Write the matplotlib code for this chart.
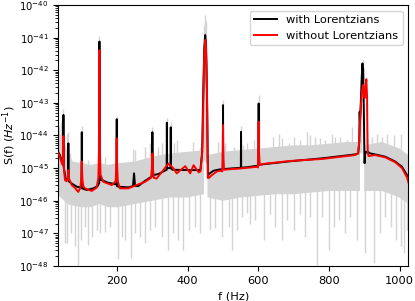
import numpy as np
import matplotlib
matplotlib.use("Agg")
import matplotlib.pyplot as plt
from matplotlib.ticker import LogLocator, NullFormatter

plt.rcParams["axes.unicode_minus"] = False
nan = float("nan")

# ---- grey periodogram (read as envelopes + individual spikes), log10 S ----
gray_f = [30, 40, 50, 60, 75, 100, 125, 150, 175, 200, 250, 300, 350, 400, 446,
          447, 455,
          456, 500, 550, 600, 650, 700, 750, 800, 850, 888,
          889, 899,
          900, 950, 1000, 1025]
gray_hi = [-44.0, -44.0, -44.2, -44.5, -44.8, -44.85, -44.9, -44.85, -44.9, -44.85, -44.8, -44.65, -44.55, -44.5, -44.45,
           nan, nan,
           -44.6, -44.5, -44.45, -44.4, -44.35, -44.3, -44.3, -44.25, -44.2, -44.2,
           nan, nan,
           -44.3, -44.2, -44.4, -44.6]
gray_lo = [-45.8, -45.9, -46.0, -46.1, -46.15, -46.2, -46.2, -46.1, -46.2, -46.2, -46.1, -46.0, -45.9, -45.9, -45.8,
           nan, nan,
           -45.9, -46.0, -45.9, -45.85, -45.8, -45.8, -45.75, -45.7, -45.7, -45.7,
           nan, nan,
           -45.7, -45.7, -45.9, -46.1]

# downward grey spikes: frequency, bottom (log10)
down_f = [52.5, 57, 69.5, 81, 88.5, 97.9, 109.2, 118.6, 128, 142.4, 151.8, 166, 180, 203.8, 213, 222.7,
          239.7, 251, 265, 279, 293.6, 307.8, 326.8, 345.6, 359.7, 373.9, 388, 402.3, 421.3, 435.5,
          463.8, 478, 497, 515.7, 525.4, 539.5, 553.7, 568, 577.3, 591.5, 615, 634, 648, 667, 681.4,
          700, 719, 733, 747.5, 766.5, 780.7, 799.5, 813.6, 828, 846.8, 861, 880, 903.5, 927, 946,
          960, 974.5, 988.7, 1003, 1012, 1020]
down_v = [-47.31, -47.3, -47.0, -47.4, -47.98, -47.2, -46.8, -47.35, -47.1, -46.9, -47.0, -46.95, -46.8, -47.8, -47.1, -47.2,
          -47.77, -47.0, -47.1, -47.3, -46.9, -46.8, -47.1, -47.5, -47.0, -47.2, -47.5, -46.9, -46.8, -47.0,
          -46.9, -46.85, -47.1, -46.8, -47.5, -46.9, -46.49, -46.39, -46.7, -46.6, -47.2, -46.4, -46.8, -47.2, -46.6,
          -46.9, -46.4, -47.1, -46.5, -47.98, -46.5, -47.5, -46.8, -46.6, -47.0, -46.5, -47.2, -47.6, -47.9, -47.0,
          -46.5, -46.8, -47.2, -47.4, -47.6, -46.9]

# upward grey spikes: frequency, top (log10)
up_f = [35, 38, 42, 48, 57, 62, 66, 100, 118.6, 150, 166, 199, 246, 251, 279, 294, 300, 317, 327,
        341, 352, 360, 369, 416, 435.5,
        447, 449, 451, 453, 487, 500, 506, 530, 551, 558, 568, 587, 601, 643, 657.6, 667, 686, 700,
        719, 738, 747.5, 761.7, 776, 790, 809, 818.4, 832.6, 851.6, 866,
        887, 892, 896, 905, 922.6, 936.7, 951, 965, 984, 1003]
up_v = [-43.7, -43.94, -43.6, -43.2, -43.94, -43.9, -44.55, -43.7, -44.75, -40.95, -44.65, -43.4, -44.4, -44.45, -44.35, -44.24, -43.75, -44.35, -44.24,
        -43.45, -43.6, -44.24, -44.14, -44.19, -44.35,
        -40.6, -40.3, -40.5, -41.2, -44.19, -42.9, -44.24, -44.35, -43.7, -44.29, -44.24, -44.14, -42.75, -44.04, -43.94, -44.09, -44.24, -44.04,
        -44.14, -43.89, -43.99, -44.04, -44.09, -44.14, -43.94, -44.04, -44.04, -44.14, -43.73,
        -43.0, -42.3, -41.7, -42.2, -44.04, -43.94, -44.04, -43.94, -43.99, -43.94]

# ---- model with Lorentzians (black), log10 S ----
black_f = [30, 38, 44, 47.5, 48, 48.5, 54.5, 61.5, 62, 62.5, 71.5, 85.7, 99.5, 100, 100.5,
           114, 133, 145, 149.5, 150, 150.5, 156.6, 175, 198.5, 199, 199.5, 204, 232,
           245, 248, 251, 260, 279, 299.5, 300, 300.5, 317, 340.5, 341, 341.5,
           351.5, 352, 352.5, 357, 400, 436, 441, 443, 445, 447, 449.5, 451, 453, 455,
           456.5, 457.5, 460, 473, 491, 499.5, 500, 500.5, 523, 550.5, 551, 551.5,
           577, 600.5, 601, 601.5, 615, 691, 780, 874, 883, 886, 887, 888, 891, 893,
           895, 896, 897, 898, 899, 900, 901, 902, 905, 910, 917, 931, 959.5, 988,
           1007, 1021, 1027]
black_v = [-44.45, -44.6, -44.8, -44.9, -43.37, -44.95, -45.32, -45.35, -44.24, -45.4, -45.47, -45.57, -45.6, -43.9, -45.62,
           -45.67, -45.62, -45.55, -45.45, -41.12, -45.35, -45.37, -45.45, -45.5, -43.5, -45.55, -45.57, -45.59,
           -45.55, -45.16, -45.55, -45.55, -45.39, -45.25, -43.9, -45.22, -45.18, -45.05, -43.61, -45.0,
           -45.0, -43.75, -45.0, -45.05, -45.06, -45.06, -44.5, -43.2, -42.2, -41.3, -40.92, -41.1, -41.8, -43.0,
           -44.5, -45.25, -45.18, -45.08, -45.04, -45.03, -43.07, -45.03, -45.01, -44.99, -43.89, -44.99,
           -44.96, -44.92, -43.02, -44.9, -44.88, -44.79, -44.7, -44.58, -44.55, -44.2, -43.27, -43.6, -42.8, -42.2,
           -41.79, -42.0, -41.95, -42.6, -43.3, -44.2, -44.85, -44.6, -44.5, -44.5, -44.55, -44.58, -44.65, -44.8,
           -44.96, -45.21, -45.42]

# ---- model without Lorentzians (red), log10 S ----
red_f = [30, 36, 42, 46, 47.5, 48, 48.5, 50, 52.5, 57, 61, 62, 63, 71.5, 80, 90, 96, 98.5, 100, 101.5,
         104, 109, 128, 142, 147, 148.5, 149.5, 150, 150.5, 151.5, 153, 161, 185, 196, 198, 199, 200,
         202, 208, 232, 255, 279, 296, 298.5, 300, 301.5, 304, 312, 331, 345.5, 359, 369, 393, 407,
         416.6, 431, 436, 440, 442, 445, 447, 449.6, 452, 454.4, 456, 457, 460, 469, 483, 495, 498,
         499, 500, 501, 503, 523, 540, 597, 599, 600, 601, 602, 604, 615, 691, 780, 874, 882, 885,
         888, 891, 894, 897, 899, 901, 903, 906, 908, 909, 910, 912, 931, 959.5, 988, 1007, 1021, 1027]
red_v = [-44.5, -44.6, -44.8, -44.9, -44.6, -44.02, -44.6, -45.1, -45.37, -45.4, -45.3, -45.06, -45.3, -45.52, -45.6, -45.73, -45.6, -45.3, -44.8, -45.3,
         -45.55, -45.62, -45.7, -45.6, -45.3, -44.5, -42.5, -41.38, -42.5, -44.5, -45.2, -45.42, -45.52, -45.4, -44.9, -44.09, -44.9,
         -45.4, -45.62, -45.62, -45.52, -45.42, -45.3, -45.0, -44.55, -45.0, -45.3, -45.32, -45.06, -44.86, -45.0, -45.16, -44.94, -45.16,
         -44.91, -45.13, -45.1, -44.7, -44.35, -42.5, -41.48, -41.07, -41.3, -42.5, -44.04, -45.3, -45.3, -45.21, -45.1, -45.08, -45.1,
         -44.7, -43.68, -44.7, -45.05, -45.03, -45.02, -44.96, -44.98, -44.5, -43.58, -44.5, -44.9, -44.87, -44.78, -44.72, -44.6, -44.55, -44.3,
         -43.6, -43.0, -42.6, -42.45, -42.7, -42.85, -42.6, -42.28, -42.8, -43.8, -44.5, -44.63, -44.6, -44.67, -44.82, -45.0, -45.28, -45.5]

x_ticks = [200, 400, 600, 800, 1000]
y_decades = [-48, -47, -46, -45, -44, -43, -42, -41, -40]

fs = 8.2
fig = plt.figure(figsize=(4.15, 3.01), dpi=100)
ax = fig.add_axes([0.1405, 0.1163, 0.8435, 0.8671])

gcol = "#d3d3d3"
gf = np.array(gray_f, dtype=float)
glo = np.array(gray_lo)
ghi = np.array(gray_hi)
ok = ~np.isnan(glo)
ax.fill_between(gf, 10.0 ** glo, 10.0 ** ghi, color=gcol, lw=0, zorder=1)
lo_interp = np.interp(down_f, gf[ok], glo[ok])
ax.vlines(down_f, 10.0 ** np.array(down_v), 10.0 ** (lo_interp + 0.3), color=gcol, lw=1.0, zorder=1)
hi_interp = np.interp(up_f, gf[ok], ghi[ok])
ax.vlines(up_f, 10.0 ** (hi_interp - 0.3), 10.0 ** np.array(up_v), color=gcol, lw=1.0, zorder=1)

ax.plot(black_f, 10.0 ** np.array(black_v), color="black", lw=1.4, zorder=3,
        label="with Lorentzians")
ax.plot(red_f, 10.0 ** np.array(red_v), color="red", lw=1.4, zorder=4,
        label="without Lorentzians")

ax.set_yscale("log")
ax.set_xlim(33.5, 1025)
ax.set_ylim(1e-48, 1e-40)
ax.set_xticks(x_ticks)
ax.set_yticks([10.0 ** d for d in y_decades])
ax.yaxis.set_minor_locator(LogLocator(base=10, subs=np.arange(2, 10), numticks=50))
ax.yaxis.set_minor_formatter(NullFormatter())
ax.tick_params(axis="x", labelsize=fs)
ax.tick_params(axis="y", labelsize=7.2)
ax.set_xlabel("f (Hz)", fontsize=fs)
ax.set_ylabel(r"S(f) $(Hz^{-1})$", fontsize=8.0)
ax.yaxis.set_label_coords(-0.115, 0.5)
ax.legend(loc="upper right", fontsize=fs)

fig.savefig("out.png", dpi=100)
